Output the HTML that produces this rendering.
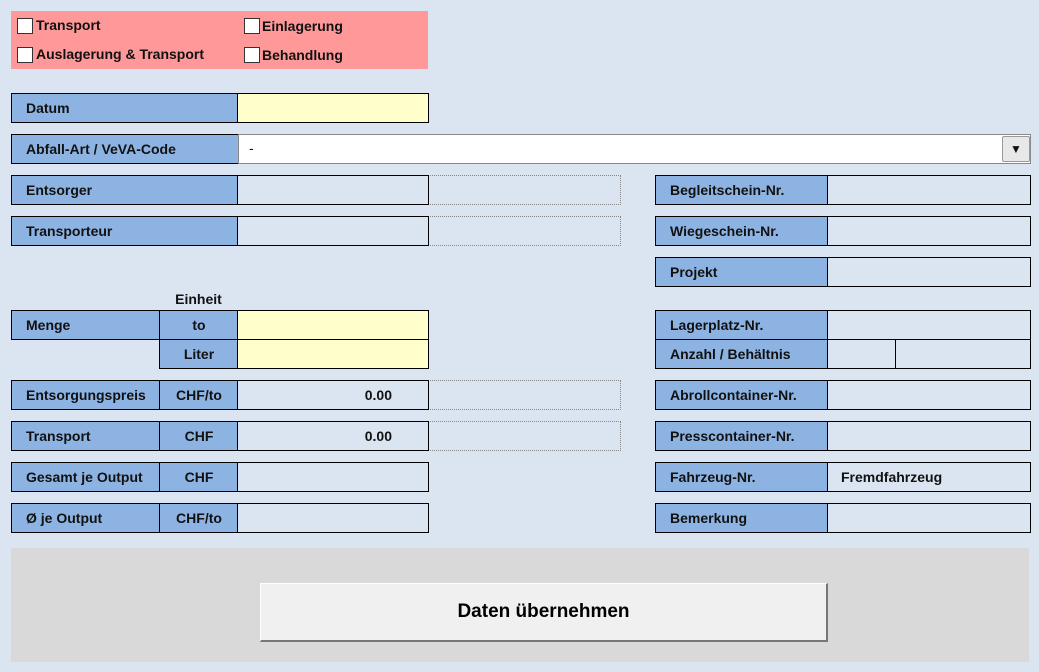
<!DOCTYPE html>
<html><head><meta charset="utf-8"><style>
body{margin:0;width:1039px;height:672px;background:#dbe4f1;position:relative;overflow:hidden;font-family:"Liberation Sans",Arial,sans-serif;font-weight:bold;font-size:14px;color:#111}
div{position:absolute;box-sizing:border-box}
.l{background:#8db3e2;border:1px solid #000;display:flex;align-items:center;padding-left:14px}
.c{background:#8db3e2;border:1px solid #000;display:flex;align-items:center;justify-content:center}
.v{background:#dbe4f1;border:1px solid #000}
.y{background:#ffffcc;border:1px solid #000}
.d{border:1px dotted #888}
.cb{width:16px;height:16px;background:#fff;border:1px solid #333}
.t{display:flex;align-items:center}
</style></head><body>
<div style="left:11px;top:11px;width:417px;height:58px;background:#ff9999"></div>
<div class="cb" style="left:17px;top:18px"></div><div style="left:36px;top:17px">Transport</div>
<div class="cb" style="left:244px;top:18px"></div><div style="left:262px;top:18px">Einlagerung</div>
<div class="cb" style="left:17px;top:47px"></div><div style="left:36px;top:46px">Auslagerung &amp; Transport</div>
<div class="cb" style="left:244px;top:47px"></div><div style="left:262px;top:47px">Behandlung</div>

<div class="l" style="left:11px;top:93px;width:228px;height:30px">Datum</div>
<div class="y" style="left:237px;top:93px;width:192px;height:30px"></div>
<div class="l" style="left:11px;top:134px;width:228px;height:30px">Abfall-Art / VeVA-Code</div>
<div style="left:238px;top:134px;width:793px;height:30px;background:#fff;border:1px solid #888;padding:5px 0 0 10px;font-weight:normal">-</div>
<div style="left:1002px;top:136px;width:28px;height:26px;background:#e8e8e8;border:1px solid #999;border-radius:2px;display:flex;align-items:center;justify-content:center;font-size:12px">▼</div>

<div class="d" style="left:428px;top:175px;width:193px;height:30px"></div>
<div class="l" style="left:11px;top:175px;width:228px;height:30px">Entsorger</div>
<div class="v" style="left:237px;top:175px;width:192px;height:30px"></div>
<div class="d" style="left:428px;top:216px;width:193px;height:30px"></div>
<div class="l" style="left:11px;top:216px;width:228px;height:30px">Transporteur</div>
<div class="v" style="left:237px;top:216px;width:192px;height:30px"></div>

<div style="left:159px;top:291px;width:79px;text-align:center">Einheit</div>
<div class="l" style="left:11px;top:310px;width:149px;height:30px">Menge</div>
<div class="c" style="left:159px;top:310px;width:80px;height:30px">to</div>
<div class="c" style="left:159px;top:339px;width:80px;height:30px">Liter</div>
<div class="y" style="left:237px;top:310px;width:192px;height:30px"></div>
<div class="y" style="left:237px;top:339px;width:192px;height:30px"></div>

<div class="d" style="left:428px;top:380px;width:193px;height:30px"></div>
<div class="d" style="left:428px;top:421px;width:193px;height:30px"></div>
<div class="l" style="left:11px;top:380px;width:149px;height:30px">Entsorgungspreis</div>
<div class="c" style="left:159px;top:380px;width:80px;height:30px">CHF/to</div>
<div class="v t" style="left:237px;top:380px;width:192px;height:30px;justify-content:flex-end;padding-right:36px">0.00</div>
<div class="l" style="left:11px;top:421px;width:149px;height:30px">Transport</div>
<div class="c" style="left:159px;top:421px;width:80px;height:30px">CHF</div>
<div class="v t" style="left:237px;top:421px;width:192px;height:30px;justify-content:flex-end;padding-right:36px">0.00</div>
<div class="l" style="left:11px;top:462px;width:149px;height:30px">Gesamt je Output</div>
<div class="c" style="left:159px;top:462px;width:80px;height:30px">CHF</div>
<div class="v" style="left:237px;top:462px;width:192px;height:30px"></div>
<div class="l" style="left:11px;top:503px;width:149px;height:30px">Ø je Output</div>
<div class="c" style="left:159px;top:503px;width:80px;height:30px">CHF/to</div>
<div class="v" style="left:237px;top:503px;width:192px;height:30px"></div>

<div class="l" style="left:655px;top:175px;width:174px;height:30px">Begleitschein-Nr.</div>
<div class="v" style="left:827px;top:175px;width:204px;height:30px"></div>
<div class="l" style="left:655px;top:216px;width:174px;height:30px">Wiegeschein-Nr.</div>
<div class="v" style="left:827px;top:216px;width:204px;height:30px"></div>
<div class="l" style="left:655px;top:257px;width:174px;height:30px">Projekt</div>
<div class="v" style="left:827px;top:257px;width:204px;height:30px"></div>
<div class="l" style="left:655px;top:310px;width:174px;height:30px">Lagerplatz-Nr.</div>
<div class="v" style="left:827px;top:310px;width:204px;height:30px"></div>
<div class="l" style="left:655px;top:339px;width:174px;height:30px">Anzahl / Behältnis</div>
<div class="v" style="left:827px;top:339px;width:69px;height:30px"></div>
<div class="v" style="left:895px;top:339px;width:136px;height:30px"></div>
<div class="l" style="left:655px;top:380px;width:174px;height:30px">Abrollcontainer-Nr.</div>
<div class="v" style="left:827px;top:380px;width:204px;height:30px"></div>
<div class="l" style="left:655px;top:421px;width:174px;height:30px">Presscontainer-Nr.</div>
<div class="v" style="left:827px;top:421px;width:204px;height:30px"></div>
<div class="l" style="left:655px;top:462px;width:174px;height:30px">Fahrzeug-Nr.</div>
<div class="v t" style="left:827px;top:462px;width:204px;height:30px;padding-left:13px">Fremdfahrzeug</div>
<div class="l" style="left:655px;top:503px;width:174px;height:30px">Bemerkung</div>
<div class="v" style="left:827px;top:503px;width:204px;height:30px"></div>

<div style="left:11px;top:548px;width:1018px;height:114px;background:#d9d9d9"></div>
<div style="left:260px;top:583px;width:568px;height:59px;background:#f0f0f0;border-right:2px solid #777;border-bottom:2px solid #777;border-top:1px solid #fff;border-left:1px solid #fff;display:flex;align-items:center;justify-content:center;font-size:19px;color:#000">Daten übernehmen</div>
</body></html>
